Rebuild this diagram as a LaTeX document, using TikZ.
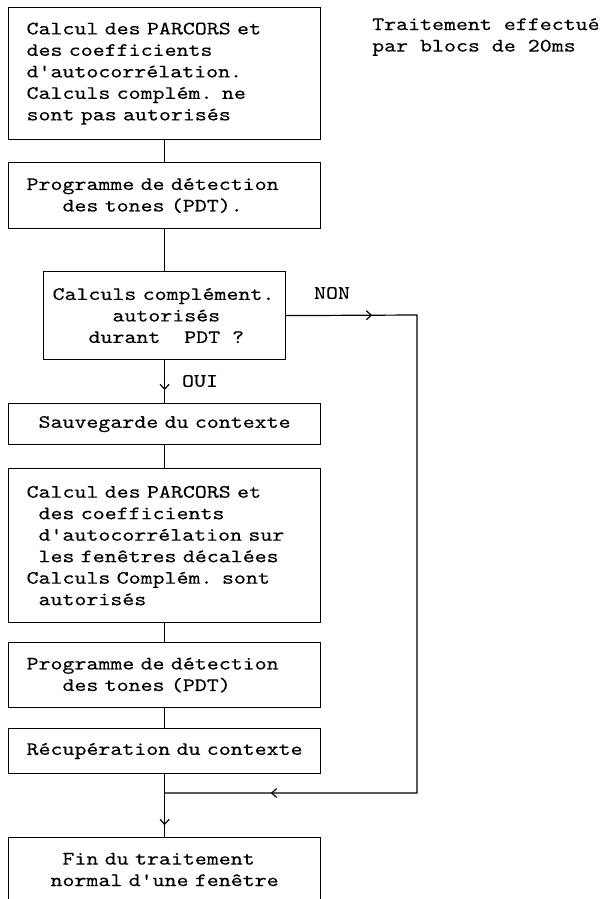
\documentclass[tikz,border=0pt]{standalone}
\usepackage{fontspec}
\setmonofont[FakeStretch=1.2,FakeBold=0.25]{lmmono10-regular.otf}
\usetikzlibrary{arrows.meta,decorations.markings}
\newcommand\fs{\ttfamily\fontsize{19}{21.5}\selectfont}
\newcommand\ind{\hspace*{18pt}}
\newcommand\indd{\hspace*{9pt}}
\begin{document}
\begin{tikzpicture}[x=1pt,y=-1pt,
  bx/.style={draw, line width=1.2pt, anchor=north west, inner xsep=0pt, inner ysep=1pt, align=left, font=\fs},
  conn/.style={line width=1.2pt},
  lbl/.style={inner sep=0pt, font=\fs},
  barb/.tip={Straight Barb[length=5pt,width=9pt]},
  midtip/.style={postaction={decorate,decoration={markings,mark=at position #1 with {\arrow{barb}}}}}]
\clip (0,0) rectangle (602,899);
\fill[white] (0,0) rectangle (602,899);

\node[bx, text width=312pt, minimum height=132pt] (b1) at (8,7)
  {\ind Calcul des PARCORS et\\\ind des coefficients\\\ind d'autocorrélation.\\\ind Calculs complém. ne\\\ind sont pas autorisés};
\node[bx, text width=312pt, minimum height=66pt] (b2) at (8,162)
  {\ind Programme de détection\\\ind\phantom{xxx}des tones (PDT).};
\node[bx, text width=242pt, minimum height=88pt] (dec) at (43,271)
  {\indd Calculs complément.\\\indd\phantom{xxxxx}autorisés\\\indd\phantom{xxx}durant\phantom{xx}PDT\phantom{x}?};
\node[bx, text width=312pt, minimum height=41pt] (b3) at (8,403)
  {\ind\phantom{x}Sauvegarde du contexte};
\node[bx, text width=312pt, minimum height=154pt] (b4) at (8,468)
  {\ind Calcul des PARCORS et\\\ind\phantom{x}des coefficients\\\ind\phantom{x}d'autocorrélation sur\\\ind\phantom{x}les fenêtres décalées\\\ind Calculs Complém. sont\\\ind\phantom{x}autorisés};
\node[bx, text width=312pt, minimum height=65pt] (b5) at (8,642)
  {\ind Programme de détection\\\ind\phantom{xxx}des tones (PDT)};
\node[bx, text width=312pt, minimum height=45pt] (b6) at (8,728)
  {\ind Récupération du contexte};
\node[bx, text width=312pt, minimum height=64pt] (b7) at (8,837)
  {\ind\phantom{xxx}Fin du traitement\\\ind\phantom{xx}normal d'une fenêtre};

\node[lbl, anchor=west, align=left] (note) at (372,37) {Traitement effectué\\par blocs de 20ms};
\node[lbl] (non) at (332,293) {NON};
\node[lbl] (oui) at (200,381) {OUI};

\coordinate (r1) at (417,315);
\coordinate (r2) at (417,793);
\coordinate (m) at (b6.south |- r2);

\draw[conn] (b1.south) -- (b2.north);
\draw[conn] (b2.south) -- (dec.north);
\draw[conn, midtip=0.70] (dec.south) -- (b3.north);
\draw[conn] (b3.south) -- (b4.north);
\draw[conn] (b4.south) -- (b5.north);
\draw[conn] (b5.south) -- (b6.north);
\draw[conn, midtip=0.8125] (b6.south) -- (b7.north);
\draw[conn, postaction={decorate,decoration={markings,
    mark=at position 86pt with {\arrow{barb}},
    mark=at position 755pt with {\arrow{barb}}}}]
  (dec.east) -- (r1) -- (r2) -- (m);
\end{tikzpicture}
\end{document}
